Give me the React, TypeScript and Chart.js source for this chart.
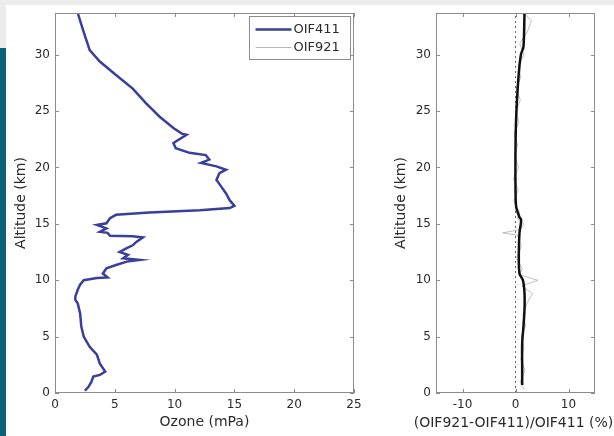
import React, { useEffect, useRef } from "react";
import { Chart, registerables } from "chart.js";

Chart.register(...registerables);

// ---------- data ----------
const altitude411 = [
  0.2, 0.55, 1.0, 1.45, 1.6, 1.9, 2.6, 3.4, 4.1, 5.0, 5.9, 7.05, 7.95, 8.25, 8.55, 9.15, 9.6, 10.0,
  10.2, 10.25, 10.6, 11.05, 11.35, 11.65, 11.8, 11.95, 12.25, 12.5, 12.85, 13.1, 13.4, 13.8, 13.9,
  13.95, 14.2, 14.3, 14.6, 14.9, 15.05, 15.5, 15.8, 16.0, 16.2, 16.4, 16.6, 17.1, 17.7, 18.3, 18.9,
  19.5, 19.8, 20.1, 20.4, 20.7, 21.1, 21.3, 21.7, 22.15, 22.3, 22.9, 23.0, 23.5, 24.5, 25.7, 27.0,
  28.2, 29.4, 30.4, 32.0, 33.7,
];
const ozone411 = [
  2.5, 2.8, 3.05, 3.2, 3.75, 4.2, 3.75, 3.5, 2.9, 2.4, 2.2, 2.1, 1.9, 1.7, 1.7, 1.9, 2.1, 2.4,
  3.5, 4.4, 4.0, 4.3, 5.1, 6.0, 7.1, 5.7, 6.1, 5.4, 6.0, 6.5, 6.8, 7.35, 6.5,
  4.6, 4.4, 3.75, 4.3, 3.5, 4.3, 4.6, 5.1, 7.9, 12.1, 14.6, 15.0, 14.6, 14.3, 13.9, 13.5,
  13.75, 14.3, 13.5, 12.2, 12.9, 12.6, 11.25, 10.1, 9.9, 10.1, 11.0, 10.6, 9.9, 8.75, 7.6, 6.5,
  5.1, 3.75, 2.9, 2.4, 1.9,
];
const ozone921 = [
  2.53, 2.83, 3.08, 3.24, 3.8, 4.25, 3.8, 3.54, 2.94, 2.43, 2.23, 2.13, 1.93, 1.73, 1.72, 1.93, 2.13, 2.44,
  3.55, 4.46, 4.05, 4.34, 5.15, 6.05, 7.15, 5.75, 6.14, 5.44, 6.04, 6.55, 6.85, 7.4, 6.54,
  4.55, 4.36, 3.73, 4.33, 3.52, 4.35, 4.65, 5.15, 7.95, 12.12, 14.62, 15.02, 14.6, 14.3, 13.9, 13.5,
  13.75, 14.3, 13.5, 12.2, 12.9, 12.62, 11.26, 10.12, 9.92, 10.12, 11.02, 10.62, 9.92, 8.77, 7.62, 6.53,
  5.13, 3.78, 2.93, 2.44, 1.93,
];

const diffAltitude = [
  0.3, 1, 2, 3, 4, 5, 6, 7, 8, 8.8, 9.5, 10, 10.5, 11, 12, 13, 14, 14.2, 14.5, 15, 15.5, 16, 17,
  18, 19, 20, 21, 22, 23, 24, 25, 26, 27, 28, 29, 30, 31, 32, 33, 33.7,
];
const diffRaw = [
  1.6, 0.9, 1.8, 1.0, 1.6, 1.1, 1.9, 1.4, 2.2, 3.2, 1.2, 4.2, 0.6, 1.3, 0.2, 1.1, 0.4, -2.4, 0.9,
  1.6, 0.3, 0.8, -0.3, 0.5, -0.4, 0.6, -0.2, 0.4, -0.3, 0.6, 0.2, 0.9, 0.1, 1.0, 0.5, 1.6, 0.8,
  2.2, 3.0, 1.6,
];
const smoothAltitude = [
  0.7, 2.3, 4.4, 5.9, 7.4, 8.85, 10.0, 10.6, 12.4, 14.2, 15.35, 15.6, 16.5, 18.3, 21.6, 24.5, 27.2,
  29.0, 30.1, 30.7, 33.7,
];
const smoothDiff = [
  1.26, 1.26, 1.26, 1.5, 1.7, 1.7, 1.4, 0.75, 0.63, 0.75, 1.07, 0.75, 0.13, 0, 0, 0.13, 0.44, 0.75,
  1.07, 1.5, 1.7,
];
const zeroLineAltitude = [0, 33.7];
const zeroLineValue = [0, 0];

const ozoneTicks = [0, 5, 10, 15, 20, 25];
const diffTicks = [-10, 0, 10];
const altitudeTicks = [0, 5, 10, 15, 20, 25, 30];
const ALT_MAX = 33.7;

// ---------- styling ----------
const FAMILY = "'DejaVu Sans', 'Liberation Sans', Arial, sans-serif";
const TICK_FONT = { family: FAMILY, size: 12 };
const TITLE_FONT = { family: FAMILY, size: 14 };
const TEXT = "#2a2a2a";

const pts = (xs: number[], ys: number[]) => xs.map((x, i) => ({ x, y: ys[i] }));

const boxPlugin = {
  id: "matlabBox",
  afterDraw(chart: any, _args: any, opts: any) {
    const { ctx, chartArea: a, scales } = chart;
    ctx.save();
    ctx.strokeStyle = "#8c8c8c";
    ctx.lineWidth = 1;
    ctx.strokeRect(Math.round(a.left) + 0.5, Math.round(a.top) + 0.5, Math.round(a.width) - 1, Math.round(a.height) - 1);
    const L = 4;
    ctx.beginPath();
    scales.x.ticks.forEach((t: any) => {
      const px = Math.round(scales.x.getPixelForValue(t.value)) + 0.5;
      ctx.moveTo(px, a.bottom);
      ctx.lineTo(px, a.bottom - L);
      ctx.moveTo(px, a.top);
      ctx.lineTo(px, a.top + L);
    });
    scales.y.ticks.forEach((t: any) => {
      const py = Math.round(scales.y.getPixelForValue(t.value)) + 0.5;
      ctx.moveTo(a.left, py);
      ctx.lineTo(a.left + L, py);
      ctx.moveTo(a.right, py);
      ctx.lineTo(a.right - L, py);
    });
    ctx.stroke();

    if (opts && opts.xTitle) {
      ctx.font = `14px ${FAMILY}`;
      ctx.fillStyle = TEXT;
      ctx.textAlign = "center";
      ctx.textBaseline = "middle";
      ctx.fillText(opts.xTitle, (a.left + a.right) / 2 - 2, chart.height - 13);
    }

    if (opts && opts.legend) {
      const ds = chart.data.datasets.slice(0, 2);
      const w = 101;
      const h = 43;
      const bx = Math.round(a.right - 4 - w) + 0.5;
      const by = Math.round(a.top + 3) + 0.5;
      ctx.fillStyle = "#ffffff";
      ctx.fillRect(bx, by, w, h);
      ctx.strokeStyle = "#8c8c8c";
      ctx.lineWidth = 1;
      ctx.strokeRect(bx, by, w, h);
      ctx.font = `13px ${FAMILY}`;
      ctx.textBaseline = "middle";
      ctx.textAlign = "left";
      ds.forEach((d: any, i: number) => {
        const y = by + 13 + i * 18;
        ctx.beginPath();
        ctx.strokeStyle = d.borderColor;
        ctx.lineWidth = d.borderWidth;
        ctx.moveTo(bx + 6, y);
        ctx.lineTo(bx + 42, y);
        ctx.stroke();
        ctx.fillStyle = TEXT;
        ctx.fillText(d.label, bx + 44, y);
      });
    }
    ctx.restore();
  },
};

function makeScales(
  xTicks: number[],
  xMin: number,
  xMax: number,
  xTitle: string | null,
  yWidth: number,
  yTitlePad: number
) {
  return {
    x: {
      type: "linear",
      min: xMin,
      max: xMax,
      afterBuildTicks: (s: any) => {
        s.ticks = xTicks.map((v) => ({ value: v }));
      },
      afterFit: (s: any) => {
        s.height = 43;
      },
      grid: { display: false, drawTicks: false },
      border: { display: false },
      ticks: { font: TICK_FONT, color: TEXT, padding: 5, maxRotation: 0, autoSkip: false },
      title: {
        display: xTitle !== null,
        text: xTitle || "",
        font: TITLE_FONT,
        color: TEXT,
        padding: { top: 0, bottom: 5 },
      },
    },
    y: {
      type: "linear",
      min: 0,
      max: ALT_MAX,
      afterBuildTicks: (s: any) => {
        s.ticks = altitudeTicks.map((v) => ({ value: v }));
      },
      afterFit: (s: any) => {
        s.width = yWidth;
      },
      grid: { display: false, drawTicks: false },
      border: { display: false },
      ticks: { font: TICK_FONT, color: TEXT, padding: 5, autoSkip: false },
      title: {
        display: true,
        text: "Altitude (km)",
        font: TITLE_FONT,
        color: TEXT,
        padding: { top: yTitlePad, bottom: 0 },
      },
    },
  };
}

export default function App() {
  const leftRef = useRef<HTMLCanvasElement>(null);
  const rightRef = useRef<HTMLCanvasElement>(null);

  useEffect(() => {
    const left = new Chart(leftRef.current as HTMLCanvasElement, {
      type: "scatter",
      data: {
        datasets: [
          {
            label: "OIF411",
            data: pts(ozone411, altitude411),
            showLine: true,
            borderColor: "#3a3f9e",
            borderWidth: 2.5,
            pointRadius: 0,
            tension: 0,
          },
          {
            label: "OIF921",
            data: pts(ozone921, altitude411),
            showLine: true,
            borderColor: "#b8b8b8",
            borderWidth: 1,
            pointRadius: 0,
            tension: 0,
          },
        ],
      },
      options: {
        responsive: false,
        animation: false,
        layout: { padding: { top: 13, right: 16, left: 0, bottom: 0 } },
        plugins: { legend: { display: false }, tooltip: { enabled: false }, matlabBox: { legend: true } },
        scales: makeScales(ozoneTicks, 0, 25, "Ozone (mPa)", 55, 13),
      } as any,
      plugins: [boxPlugin],
    });

    const right = new Chart(rightRef.current as HTMLCanvasElement, {
      type: "scatter",
      data: {
        datasets: [
          {
            label: "Smoothed difference",
            data: pts(smoothDiff, smoothAltitude),
            showLine: true,
            borderColor: "#111111",
            borderWidth: 2.5,
            pointRadius: 0,
            tension: 0.3,
          },
          {
            label: "Difference",
            data: pts(diffRaw, diffAltitude),
            showLine: true,
            borderColor: "rgba(150,150,150,0.6)",
            borderWidth: 1,
            pointRadius: 0,
            tension: 0,
          },
          {
            label: "Zero",
            data: pts(zeroLineValue, zeroLineAltitude),
            showLine: true,
            borderColor: "#666666",
            borderWidth: 1,
            borderDash: [2, 3],
            pointRadius: 0,
          },
        ],
      },
      options: {
        responsive: false,
        animation: false,
        layout: { padding: { top: 13, right: 19, left: 0, bottom: 0 } },
        plugins: {
          legend: { display: false },
          tooltip: { enabled: false },
          matlabBox: { legend: false, xTitle: "(OIF921-OIF411)/OIF411 (%)" },
        },
        scales: makeScales(diffTicks, -15, 15, null, 66, 23),
      } as any,
      plugins: [boxPlugin],
    });

    return () => {
      left.destroy();
      right.destroy();
    };
  }, []);

  return (
    <div style={{ position: "absolute", left: 0, top: 0, width: 614, height: 436, background: "#ffffff", overflow: "hidden" }}>
      <div style={{ position: "absolute", left: 0, top: 0, width: 614, height: 5, background: "#ececec" }} />
      <div style={{ position: "absolute", left: 0, top: 0, width: 6, height: 48, background: "#ececec" }} />
      <div style={{ position: "absolute", left: 0, top: 48, width: 6, height: 388, background: "#0b6177" }} />
      <canvas ref={leftRef} width={370} height={436} style={{ position: "absolute", left: 0, top: 0, width: 370, height: 436 }} />
      <canvas ref={rightRef} width={244} height={436} style={{ position: "absolute", left: 370, top: 0, width: 244, height: 436 }} />
    </div>
  );
}
